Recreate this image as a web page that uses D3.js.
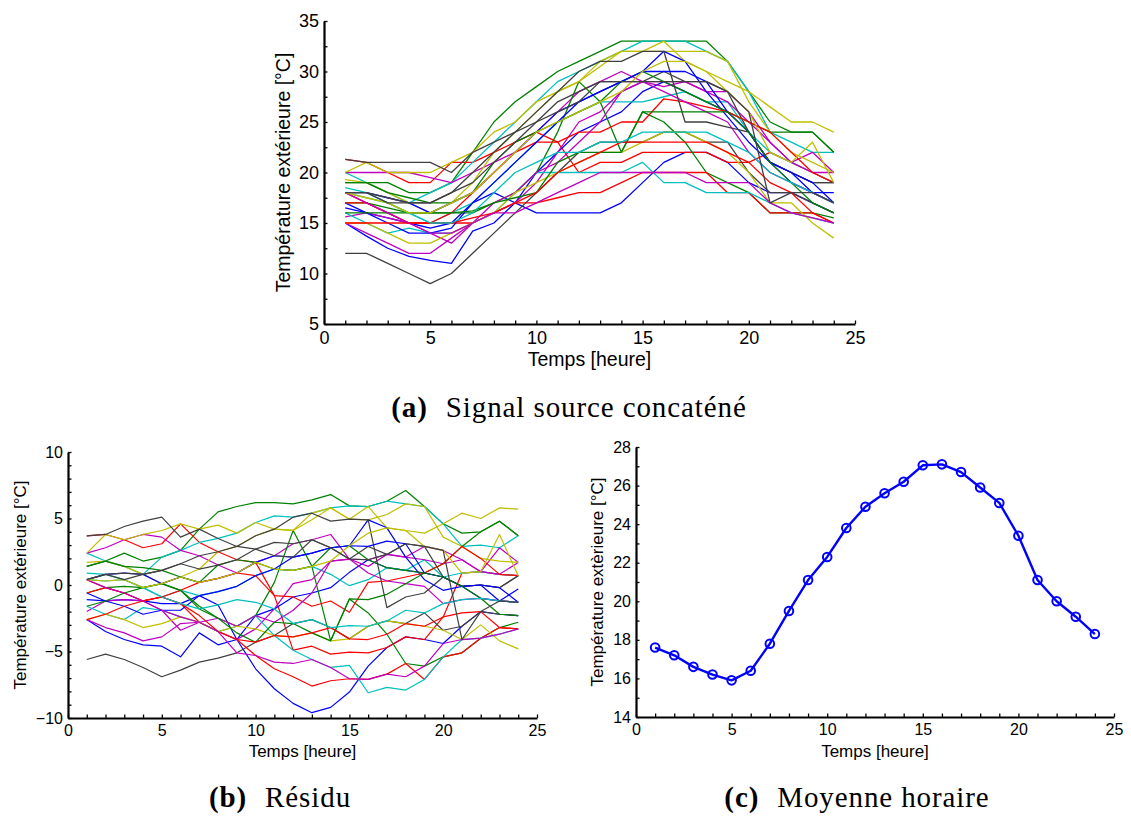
<!DOCTYPE html>
<html>
<head>
<meta charset="utf-8">
<script src="https://cdn.jsdelivr.net/npm/d3@7"></script>
<style>
  body { margin: 0; background: #fff; }
  svg { display: block; }
</style>
</head>
<body>
<div id="fig"></div>
<script>
// hours of the day (x values)
var hours = [1,2,3,4,5,6,7,8,9,10,11,12,13,14,15,16,17,18,19,20,21,22,23,24];

// one row per day, hourly outside temperature (deg C), panel (a)
var sourceDays = [
  [17,16,15.5,15,14.5,15,17,18,17,16,16,16,16,17,19,21,22,22,21,19,18,18,17,16],
  [19,19,19,18,18,19,22,25,27,28.5,30,31,32,33,33,33,33,33,31,28,25,24,24,22],
  [21.3,21,20,19,19,21,21,22,23,24,23,20,21,21,22,22,22,22,21,21,22,21,20,19],
  [20,19,18,17,18,19,21,23,25,27,29,30,31,32,33,33,33,32,31,28,24,23,22,22],
  [20,20,20,20,19.5,19,20,21,22,24,26,28,29,30,29,29,29,28,28,26,23,21,22,20],
  [20,21,20,20,20,21,22,24,25,27,28,29,31,32,32,33,31,30,29,28,26.5,25,25,24],
  [12,12,11,10,9,10,12,14,16,18,20,22,23,23,23,24,24,23,23,20,18,18,17,16],

  [15,13.7,12.5,11.7,11.3,11,14.2,15,17,20,22,24,25,26,28,29,28,27,26,24,21,19,18,17],
  [17,17,16.5,16,16,16,16,17,18,20,24,29,27,22,26,25,23,20,19,18,16,16,16,15.5],
  [18,17,16,15,15,15,15,16,17,17,17.5,18,18,19,20,20,20,20,18,18,16,16,16,15],
  [18.5,18,17,16,15,16,17,19,21,23,25,26,27,27,27,27.5,28,27,27,24,22,21,20,19],
  [15.6,16,15.5,15,14,13,15,16,17,19,22,25,26,28,29,28.5,29,28,27,25,23,21,20,20],
  [19.3,19,18,17,16,17,19,22,24,26,28,29,30.5,32,32,32,32,32,31,27,24,22,21,20],
  [21.3,21,21,21,21,20,22,23,24,25,27,28,29,29,29,30,29,29,28,24,21,20,19,19],

  [18,18,17.5,17,16,17,18,20,22,24,26,27,28,29,30,32,31,28,25.5,23,21,20,18,18],
  [19,19,18,17.5,17,17,18,21,23,24,25,26,27,29,30,29,28,27,26,25,24,24,24,22],
  [17,17,16,15,15,16,18,20,22,23,23,24,24,25,25,27.3,27,26.5,26,25,24,22,20,19],
  [16,15,14,14.5,14,14,15,16,18,20,20,20,20,20,21,19,19,18,18,18,17,16,15.5,15],
  [15,14,13,12,12,13.5,15,17,18,20,21,23,25,28,29,28,27,26,25,22,20,19,18,17],
  [15,15,14,13,13,14,15,16,18,19,20,21,22,22,23,24,24,23,22,20,17,17,15,13.5],
  [18,18,17.5,17,17,18,20,22,24,26,28,30,31,31,32,32,25,25,24.5,24,21,20,19,19],

  [16.5,16,15,14,14,14.5,17,19,21,23,25,27,28,29,30,30,30,29,26,24,21,20,19,17],
  [16,16,16,16,16,16,16.2,17,17.5,18,21,22,22,22,26,26,26,26,26,24,21,19,17,16],
  [15,15,15,15,15,15,15.5,16,17,18,20,21,22,23,23,23,23,23,22,21,19,18,16,15],
  [18,17.5,17,16,15,15,16,18,20,21,22,22,23,23,24,24,24,24,23,22,20,19,18,17],
  [18,17,16,15,14,14,15,16,16,17,18,19,20,20,20,20,20,19,19,19,17,16,15.5,15],
  [18,17.5,17,16,16,17,18,20,22,24,25,26,27,28,30,31,31,30,28,26,22,21,23,19],
  [18,18,17,17,17,18,19,21,23,25,26,27,29,29,29,29,29,29,28,26,17,18,18,17]
];

// panel (c) hourly mean
var hourlyMean = [17.6,17.2,16.6,16.2,15.9,16.4,17.8,19.5,21.1,22.3,23.8,24.9,25.6,26.2,27.05,27.1,26.7,25.9,25.1,23.4,21.1,20.0,19.2,18.3];

// matlab colour order
var colorOrder = ["#0000ff", "#008000", "#ff0000", "#00bfbf", "#bf00bf", "#bfbf00", "#404040"];

// panel (b): each day minus the hourly mean
var residualDays = sourceDays.map(function(day){
  return day.map(function(v, i){ return v - hourlyMean[i]; });
});

var svg = d3.select("#fig").append("svg")
  .attr("width", 1131)
  .attr("height", 817);

function panel(o) {
  var g = svg.append("g");

  var xScale = d3.scaleLinear().domain([0, 25]).range([o.left, o.right]);
  var yScale = d3.scaleLinear().domain(o.yDomain).range([o.bottom, o.top]);

  var xTicks = d3.range(0, 26, 1);
  var yTicks = d3.range(o.yDomain[0], o.yDomain[1] + 0.001, o.yStep);

  var xAxis = d3.axisBottom(xScale)
    .tickValues(xTicks)
    .tickSize(-3.5)
    .tickSizeOuter(0)
    .tickPadding(o.tickFont * 0.4)
    .tickFormat(function(d){ return d % 5 === 0 ? d : ""; });

  var yAxis = d3.axisLeft(yScale)
    .tickValues(yTicks)
    .tickSize(-3.5)
    .tickSizeOuter(0)
    .tickPadding(5)
    .tickFormat(function(d){ return Math.abs(d % o.yLabelEvery) < 1e-6 ? d3.format("")(d) : ""; });

  // lines first, axes on top
  var line = d3.line()
    .x(function(d, i){ return xScale(hours[i]); })
    .y(function(d){ return yScale(d); });

  g.selectAll(".series")
    .data(o.series)
    .enter()
    .append("path")
    .attr("class", "series")
    .attr("d", line)
    .attr("fill", "none")
    .attr("stroke", function(d, i){ return o.color ? o.color : colorOrder[i % colorOrder.length]; })
    .attr("stroke-width", o.lineWidth)
    .attr("stroke-linejoin", "round");

  if (o.markers) {
    g.selectAll(".mark")
      .data(o.series[0])
      .enter()
      .append("circle")
      .attr("cx", function(d, i){ return xScale(hours[i]); })
      .attr("cy", function(d){ return yScale(d); })
      .attr("r", 4.3)
      .attr("fill", "none")
      .attr("stroke", o.color)
      .attr("stroke-width", 2);
  }

  var gx = g.append("g")
    .attr("transform", "translate(0," + o.bottom + ")")
    .call(xAxis);
  var gy = g.append("g")
    .attr("transform", "translate(" + o.left + ",0)")
    .call(yAxis);

  [gx, gy].forEach(function(ax){
    ax.select(".domain").attr("stroke", "#000").attr("stroke-width", 2.2);
    ax.selectAll(".tick line").attr("stroke", "#000").attr("stroke-width", 1.3);
    ax.selectAll("text")
      .style("font-family", "'Liberation Sans', Arial, sans-serif")
      .style("font-size", o.tickFont + "px")
      .attr("fill", "#000");
  });

  g.append("text")
    .attr("x", (o.left + o.right) / 2)
    .attr("y", o.xLabelY)
    .attr("text-anchor", "middle")
    .style("font-family", "'Liberation Sans', Arial, sans-serif")
    .style("font-size", o.labelFont + "px")
    .text("Temps [heure]");

  g.append("text")
    .attr("transform", "translate(" + o.yLabelX + "," + ((o.top + o.bottom) / 2) + ") rotate(-90)")
    .attr("text-anchor", "middle")
    .style("font-family", "'Liberation Sans', Arial, sans-serif")
    .style("font-size", o.labelFont + "px")
    .text(o.yLabel);

  var cap = g.append("text")
    .attr("x", o.capX)
    .attr("y", o.capY)
    .attr("text-anchor", "middle")
    .style("font-family", "'Liberation Serif', 'Times New Roman', serif")
    .style("font-size", "29px")
    .style("letter-spacing", "0.9px");
  cap.append("tspan").style("font-weight", "bold").text(o.capTag);
  cap.append("tspan").attr("dx", 18).text(o.capText);
}

panel({
  left: 324, right: 855, top: 21, bottom: 324,
  yDomain: [5, 35], yStep: 2.5, yLabelEvery: 5,
  tickFont: 18, labelFont: 19.5, lineWidth: 1.3,
  xLabelY: 366, yLabelX: 290,
  yLabel: "Température extérieure [°C]",
  series: sourceDays,
  capX: 569, capY: 417, capTag: "(a)", capText: "Signal source concaténé"
});

panel({
  left: 68, right: 537, top: 452, bottom: 718,
  yDomain: [-10, 10], yStep: 1, yLabelEvery: 5,
  tickFont: 16, labelFont: 17, lineWidth: 1.2,
  xLabelY: 757, yLabelX: 26,
  yLabel: "Température extérieure [°C]",
  series: residualDays,
  capX: 280, capY: 807, capTag: "(b)", capText: "Résidu"
});

panel({
  left: 636, right: 1114, top: 447, bottom: 717,
  yDomain: [14, 28], yStep: 1, yLabelEvery: 2,
  tickFont: 16, labelFont: 17, lineWidth: 2.4,
  xLabelY: 757, yLabelX: 603,
  yLabel: "Température extèrieure [°C]",
  series: [hourlyMean], color: "#0000ff", markers: true,
  capX: 857, capY: 807, capTag: "(c)", capText: "Moyenne horaire"
});
</script>
</body>
</html>
